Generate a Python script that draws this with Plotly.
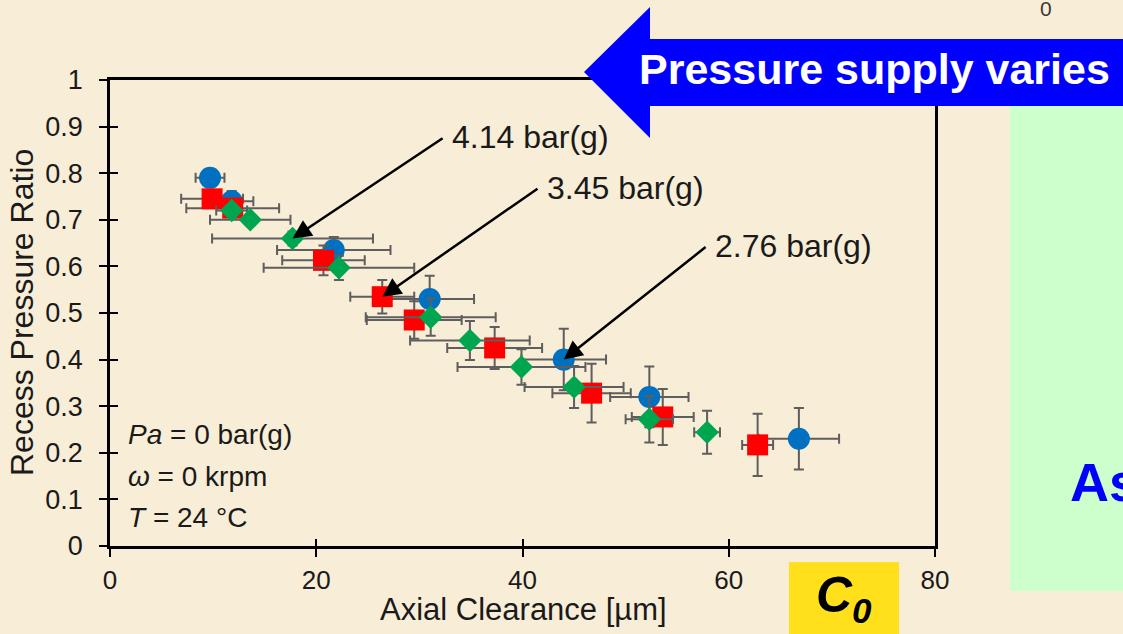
import plotly.graph_objects as go

# ---- measured data: recess pressure ratio vs axial clearance ----
# supply pressure 2.76 bar(g)
x_276 = [9.7, 11.8, 21.7, 31.0, 44.0, 52.3, 66.8]
y_276 = [0.79, 0.74, 0.635, 0.53, 0.40, 0.32, 0.23]
xerr_276 = [1.4, 2.1, 5.5, 4.3, 4.1, 3.8, 3.9]
yerr_276 = [0.012, 0.022, 0.028, 0.05, 0.066, 0.065, 0.066]

# supply pressure 3.45 bar(g)
x_345 = [9.9, 11.9, 20.7, 26.4, 29.5, 37.3, 46.7, 53.6, 62.8]
y_345 = [0.745, 0.725, 0.613, 0.535, 0.485, 0.425, 0.328, 0.277, 0.217]
xerr_345 = [3.0, 4.5, 4.0, 3.1, 4.6, 4.6, 3.8, 3.0, 1.5]
yerr_345 = [0.012, 0.015, 0.032, 0.036, 0.04, 0.045, 0.063, 0.06, 0.067]

# supply pressure 4.14 bar(g)
x_414 = [11.8, 13.6, 17.7, 22.2, 31.1, 34.9, 39.9, 45.0, 52.3, 57.9]
y_414 = [0.72, 0.70, 0.66, 0.597, 0.491, 0.441, 0.384, 0.341, 0.272, 0.244]
xerr_414 = [1.5, 3.9, 7.8, 7.3, 6.3, 5.8, 6.2, 4.8, 2.3, 1.25]
yerr_414 = [0.01, 0.01, 0.015, 0.026, 0.04, 0.042, 0.038, 0.045, 0.05, 0.046]

x_ticks = [0, 20, 40, 60, 80]
y_ticks = [0, 0.1, 0.2, 0.3, 0.4, 0.5, 0.6, 0.7, 0.8, 0.9, 1]
y_ticktext = ["0", "0.1", "0.2", "0.3", "0.4", "0.5", "0.6", "0.7", "0.8", "0.9", "1"]

# ---- page geometry (pixels) ----
W, H = 1123, 634
L, R, T, B = 110, 188, 80, 88
PW, PH = W - L - R, H - T - B


def px(x):
    return (x - L) / PW


def py(y):
    return (H - B - y) / PH


FONT = "Liberation Sans, Arial, sans-serif"
INK = "#1a1a1a"
BAR = "#5e5e5e"

fig = go.Figure()


def add_series(x, y, ex, ey, symbol, size, color, name):
    fig.add_trace(go.Scatter(
        x=x, y=y, mode="markers", name=name,
        marker=dict(symbol=symbol, size=size, color=color, line=dict(width=0)),
        error_x=dict(type="data", array=ex, color=BAR, thickness=2, width=5),
        error_y=dict(type="data", array=ey, color=BAR, thickness=2, width=5),
        showlegend=False,
    ))


add_series(x_276, y_276, xerr_276, yerr_276, "circle", 22, "#0070C0", "2.76 bar(g)")
add_series(x_345, y_345, xerr_345, yerr_345, "square", 21, "#FF0000", "3.45 bar(g)")
add_series(x_414, y_414, xerr_414, yerr_414, "diamond", 18, "#00A550", "4.14 bar(g)")

# empty traces carrying the inward half of the crossing tick marks
fig.add_trace(go.Scatter(x=[], y=[], xaxis="x2", yaxis="y", showlegend=False, hoverinfo="skip"))
fig.add_trace(go.Scatter(x=[], y=[], xaxis="x", yaxis="y2", showlegend=False, hoverinfo="skip"))

axis_common = dict(showgrid=False, zeroline=False, linecolor="black", linewidth=2.5,
                   ticks="outside", tickcolor="black", tickwidth=1.5, ticklen=8,
                   mirror=True)

fig.update_layout(
    width=W, height=H, autosize=False,
    margin=dict(l=L, r=R, t=T, b=B, pad=0),
    paper_bgcolor="#F8EDD6", plot_bgcolor="rgba(0,0,0,0)",
    xaxis=dict(range=[0, 80], tickvals=x_ticks, ticklabelstandoff=1,
               tickfont=dict(family=FONT, size=26, color=INK), **axis_common),
    yaxis=dict(range=[0, 1], tickvals=y_ticks, ticktext=y_ticktext, ticklabelstandoff=11,
               tickfont=dict(family=FONT, size=27, color=INK), **axis_common),
    xaxis2=dict(range=[0, 80], overlaying="x", anchor="y", side="bottom", tickvals=x_ticks,
                ticks="inside", ticklen=7, tickwidth=1.5, tickcolor="black",
                showticklabels=False, showgrid=False, zeroline=False, showline=False),
    yaxis2=dict(range=[0, 1], overlaying="y", anchor="x", side="left", tickvals=y_ticks,
                ticks="inside", ticklen=8, tickwidth=1.5, tickcolor="black",
                showticklabels=False, showgrid=False, zeroline=False, showline=False),
)

annotations = []

# axis titles
annotations.append(dict(text="Axial Clearance [µm]", xref="paper", yref="paper",
                        x=px(523), y=py(609), showarrow=False, xanchor="center", yanchor="middle",
                        font=dict(family=FONT, size=31, color=INK)))
annotations.append(dict(text="Recess Pressure Ratio", xref="paper", yref="paper",
                        x=px(22), y=py(313), showarrow=False, textangle=-90,
                        xanchor="center", yanchor="middle",
                        font=dict(family=FONT, size=32, color=INK)))

# operating conditions
for txt, yy in [("<i>Pa</i> = 0 bar(g)", 434),
                ("<i>ω</i> = 0 krpm", 476),
                ("<i>T</i> = 24 °C", 517)]:
    annotations.append(dict(text=txt, xref="paper", yref="paper", x=px(126), y=py(yy),
                            showarrow=False, xanchor="left", yanchor="middle",
                            font=dict(family=FONT, size=28, color=INK)))

# supply pressure call-outs: arrow tip on a measured point, label at the tail
callouts = [
    ("4.14 bar(g)", x_414[2], y_414[2], 32.4, 0.877),
    ("3.45 bar(g)", x_345[3], y_345[3], 41.6, 0.769),
    ("2.76 bar(g)", x_276[4], y_276[4], 57.9, 0.644),
]
for label, tx, ty, ax, ay in callouts:
    annotations.append(dict(text="", x=tx, y=ty, xref="x", yref="y",
                            ax=ax, ay=ay, axref="x", ayref="y",
                            showarrow=True, arrowhead=2, arrowsize=1.5, arrowwidth=2.5,
                            arrowcolor="black", standoff=0, startstandoff=0))
    annotations.append(dict(text=label, x=ax + 0.6, y=ay, xref="x", yref="y",
                            showarrow=False, xanchor="left", yanchor="middle",
                            font=dict(family=FONT, size=32, color=INK)))

# banner text
annotations.append(dict(text="<b>Pressure supply varies</b>", xref="paper", yref="paper",
                        x=px(874), y=py(69), showarrow=False, xanchor="center", yanchor="middle",
                        font=dict(family=FONT, size=43, color="white")))

# side panel text and stray tick label
annotations.append(dict(text="<b>As</b>", xref="paper", yref="paper",
                        x=px(1068), y=py(482), showarrow=False, xanchor="left", yanchor="middle",
                        font=dict(family=FONT, size=54, color="#0000FF")))
annotations.append(dict(text="0", xref="paper", yref="paper",
                        x=px(1046), y=py(9), showarrow=False, xanchor="center", yanchor="middle",
                        font=dict(family=FONT, size=21, color="#3a3a3a")))

# C0 label
annotations.append(dict(text="<b><i>C<sub>0</sub></i></b>", xref="paper", yref="paper",
                        x=px(844), y=py(598), showarrow=False, xanchor="center", yanchor="middle",
                        font=dict(family=FONT, size=50, color="black")))

fig.update_layout(annotations=annotations)

# ---- decorative shapes ----
arrow_pts = [(584, 72), (650, 7), (650, 39), (1130, 39), (1130, 106), (650, 106), (650, 138)]
arrow_path = "M " + " L ".join(f"{px(a):.5f},{py(b):.5f}" for a, b in arrow_pts) + " Z"

fig.update_layout(shapes=[
    dict(type="rect", xref="paper", yref="paper", x0=px(1010), x1=px(1130), y0=py(591), y1=py(100),
         fillcolor="#CCFFCC", line=dict(width=0), layer="below"),
    dict(type="rect", xref="paper", yref="paper", x0=px(789), x1=px(899), y0=py(640), y1=py(562),
         fillcolor="#FFE01A", line=dict(width=0), layer="below"),
    dict(type="path", xref="paper", yref="paper", path=arrow_path,
         fillcolor="#0000FF", line=dict(width=0), layer="above"),
])

fig.write_html("out.html")
